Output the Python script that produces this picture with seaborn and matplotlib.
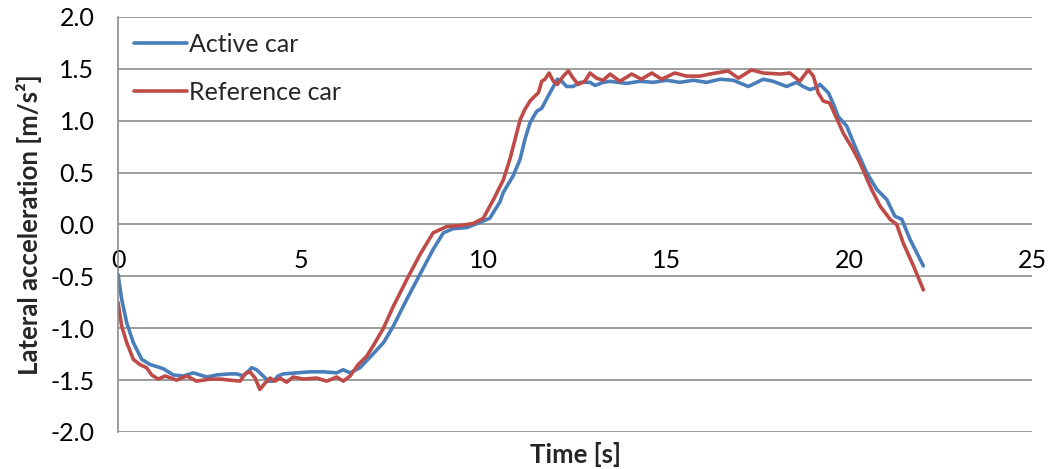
import seaborn as sns
from matplotlib import pyplot as plt
import pandas as pd

# values
active_t = [0, 0.1, 0.24, 0.42, 0.65, 0.88, 1.06, 1.24, 1.51, 1.79, 2.06, 2.43, 2.7, 3.06, 3.25,
            3.43, 3.66, 3.79, 3.97, 4.11, 4.25, 4.38, 4.52, 4.89, 5.25, 5.62, 5.98, 6.16, 6.35,
            6.62, 6.89, 7.26, 7.53, 7.9, 8.26, 8.62, 8.9, 9.17, 9.54, 9.9, 10.17, 10.45, 10.54,
            10.81, 11.0, 11.13, 11.27, 11.45, 11.59, 11.77, 11.91, 12.02, 12.14, 12.27, 12.45,
            12.64, 12.91, 13.05, 13.27, 13.46, 13.91, 14.28, 14.64, 15.01, 15.37, 15.74, 16.1,
            16.47, 16.83, 17.24, 17.65, 17.92, 18.29, 18.56, 18.74, 18.93, 19.11, 19.2, 19.43,
            19.57, 19.7, 19.93, 20.2, 20.48, 20.75, 21.03, 21.25, 21.44, 21.66, 22.03]
active_a = [-0.48, -0.72, -0.95, -1.14, -1.30, -1.35, -1.37, -1.39, -1.45, -1.46, -1.43, -1.47,
            -1.45, -1.44, -1.44, -1.46, -1.38, -1.40, -1.46, -1.51, -1.51, -1.46, -1.44, -1.43,
            -1.42, -1.42, -1.43, -1.40, -1.43, -1.38, -1.28, -1.14, -0.98, -0.72, -0.48, -0.24,
            -0.08, -0.04, -0.03, 0.02, 0.06, 0.22, 0.31, 0.47, 0.63, 0.82, 0.98, 1.09, 1.12, 1.24,
            1.33, 1.40, 1.38, 1.33, 1.33, 1.37, 1.37, 1.34, 1.37, 1.38, 1.36, 1.38, 1.37, 1.39,
            1.37, 1.39, 1.37, 1.40, 1.39, 1.33, 1.40, 1.38, 1.33, 1.37, 1.33, 1.30, 1.32, 1.35,
            1.27, 1.16, 1.04, 0.95, 0.72, 0.50, 0.34, 0.24, 0.08, 0.05, -0.14, -0.40]

reference_t = [0, 0.1, 0.24, 0.42, 0.6, 0.78, 0.92, 1.1, 1.29, 1.6, 1.88, 2.15, 2.52, 2.79, 3.06,
               3.34, 3.47, 3.61, 3.75, 3.88, 4.02, 4.16, 4.29, 4.43, 4.61, 4.79, 5.07, 5.43, 5.71,
               5.98, 6.16, 6.35, 6.57, 6.8, 6.98, 7.26, 7.53, 7.9, 8.26, 8.62, 8.99, 9.35, 9.72,
               9.99, 10.27, 10.54, 10.72, 10.86, 11.0, 11.13, 11.27, 11.41, 11.5, 11.59, 11.68,
               11.79, 11.91, 12.02, 12.18, 12.32, 12.45, 12.59, 12.77, 12.91, 13.09, 13.27, 13.46,
               13.73, 14.05, 14.32, 14.6, 14.87, 15.23, 15.55, 15.92, 16.19, 16.69, 16.97, 17.33,
               17.65, 18.11, 18.38, 18.65, 18.88, 19.02, 19.15, 19.29, 19.47, 19.61, 19.84, 20.11,
               20.3, 20.61, 20.84, 21.12, 21.3, 21.48, 21.76, 22.03]
reference_a = [-0.75, -0.98, -1.14, -1.30, -1.35, -1.38, -1.45, -1.49, -1.46, -1.50, -1.46, -1.51,
               -1.49, -1.49, -1.50, -1.51, -1.44, -1.42, -1.48, -1.59, -1.53, -1.48, -1.51, -1.48,
               -1.52, -1.47, -1.49, -1.48, -1.51, -1.47, -1.51, -1.46, -1.35, -1.27, -1.17, -1.0,
               -0.79, -0.53, -0.29, -0.08, -0.02, -0.01, 0.01, 0.06, 0.24, 0.43, 0.63, 0.82, 1.01,
               1.11, 1.19, 1.24, 1.27, 1.38, 1.40, 1.46, 1.38, 1.35, 1.43, 1.48, 1.41, 1.35, 1.38,
               1.46, 1.41, 1.39, 1.45, 1.38, 1.45, 1.40, 1.46, 1.40, 1.46, 1.43, 1.43, 1.45, 1.48,
               1.41, 1.49, 1.46, 1.45, 1.46, 1.38, 1.49, 1.43, 1.27, 1.19, 1.17, 1.06, 0.88, 0.72,
               0.59, 0.34, 0.18, 0.05, 0.0, -0.18, -0.40, -0.63]

series_names = ["Active car", "Reference car"]
x_ticks = [0, 5, 10, 15, 20, 25]
y_ticks = [-2.0, -1.5, -1.0, -0.5, 0.0, 0.5, 1.0, 1.5, 2.0]

df = pd.concat([
    pd.DataFrame({"time": active_t, "acc": active_a, "car": series_names[0]}),
    pd.DataFrame({"time": reference_t, "acc": reference_a, "car": series_names[1]}),
])

sns.set_theme(style="white")
plt.rcParams["font.family"] = ["Lato", "DejaVu Sans"]

fig = plt.figure(figsize=(10.48, 4.69), dpi=100)
ax = fig.add_axes([0.1126, 0.0789, 0.8721, 0.8849])

sns.lineplot(data=df, x="time", y="acc", hue="car", sort=False, estimator=None,
             palette=["#4A7EBB", "#BE4B48"], linewidth=2.6, ax=ax)

ax.set_xlim(0, 25)
ax.set_ylim(-2, 2)
ax.set_xticks(x_ticks)
ax.set_yticks(y_ticks)
ax.set_yticklabels(["{:.1f}".format(v) for v in y_ticks])
ax.yaxis.grid(True, color="#8c8c8c", linewidth=1.2)
ax.set_axisbelow(True)

for s in ["top", "right"]:
    ax.spines[s].set_visible(False)
ax.spines["left"].set_color("#8c8c8c")
ax.spines["left"].set_linewidth(1.2)
ax.spines["bottom"].set_position(("data", 0))
ax.spines["bottom"].set_visible(False)
ax.tick_params(axis="x", length=0, pad=18, labelsize=18, colors="black")
ax.tick_params(axis="y", length=0, pad=17, labelsize=18, colors="black")

ax.set_xlabel("")
ax.set_ylabel("Lateral acceleration [m/s²]", fontsize=18.5, fontweight="bold", labelpad=6)
fig.text(0.549, 0.03, "Time [s]", ha="center", va="center", fontsize=18.5, fontweight="bold")

ax.legend(title=None, frameon=False, loc="upper left", fontsize=18,
          handlelength=2.1, handletextpad=0.1, labelspacing=1.0,
          borderaxespad=0.25, bbox_to_anchor=(0.0, 1.0))

plt.savefig("out.png", dpi=100)
